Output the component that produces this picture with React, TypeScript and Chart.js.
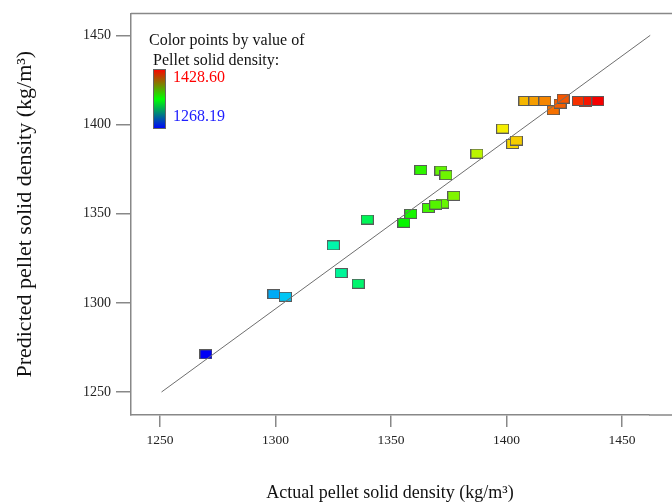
import React, { useEffect, useRef } from 'react';
import { Chart, registerables } from 'chart.js';

Chart.register(...registerables);

// Actual vs predicted pellet solid density (kg/m3)
const actualDensity = [
  1268.19, 1296.0, 1300.7, 1320.3, 1323.5, 1330.5, 1334.2, 1356.1, 1349.2, 1352.0,
  1359.2, 1365.1, 1362.2, 1369.6, 1364.3, 1366.4, 1379.1, 1389.6, 1393.7, 1395.2,
  1398.7, 1402.8, 1406.9, 1410.3, 1413.1, 1414.4, 1423.7, 1420.6, 1425.1, 1428.6,
];
const predictedDensity = [
  1271.1, 1304.9, 1303.4, 1332.2, 1316.7, 1310.7, 1346.7, 1374.5, 1344.9, 1349.9,
  1353.2, 1355.7, 1355.1, 1360.0, 1374.2, 1371.6, 1383.7, 1397.7, 1389.1, 1391.0,
  1413.2, 1413.2, 1413.2, 1408.0, 1411.7, 1414.5, 1412.5, 1413.2, 1413.2, 1413.2,
];
const fitLine = [1250, 1450];
const xTickValues = [1250, 1300, 1350, 1400, 1450];
const yTickValues = [1250, 1300, 1350, 1400, 1450];
const colorMin = 1268.19;
const colorMax = 1428.6;
const colorMinLabel = '1268.19';
const colorMaxLabel = '1428.60';
const legendTitle = ['Color points by value of', 'Pellet solid density:'];
const xTitle = 'Actual pellet solid density (kg/m³)';
const yTitle = 'Predicted pellet solid density (kg/m³)';

const FONT = '"Liberation Serif", "Times New Roman", serif';

function colorFor(v: number): string {
  const t = Math.max(0, Math.min(1, (v - colorMin) / (colorMax - colorMin)));
  const hue = 240 * (1 - t);
  return `hsl(${hue.toFixed(1)}, 100%, 48%)`;
}

function makeMarker(color: string): HTMLCanvasElement {
  const c = document.createElement('canvas');
  c.width = 13;
  c.height = 10;
  const g = c.getContext('2d')!;
  g.fillStyle = color;
  g.fillRect(0.5, 0.5, 12, 9);
  g.strokeStyle = '#5a5a5a';
  g.lineWidth = 1;
  g.strokeRect(0.5, 0.5, 12, 9);
  return c;
}

const framePlugin = {
  id: 'frameAndLegend',
  afterDraw(chart: any) {
    const { ctx, chartArea, width } = chart;
    ctx.save();
    ctx.strokeStyle = '#888';
    ctx.lineWidth = 1.5;
    ctx.beginPath();
    ctx.moveTo(chartArea.left, chartArea.top);
    ctx.lineTo(width, chartArea.top);
    ctx.moveTo(chartArea.right, chartArea.bottom);
    ctx.lineTo(width, chartArea.bottom);
    ctx.stroke();

    // colour legend
    ctx.font = `16px ${FONT}`;
    ctx.fillStyle = '#111';
    ctx.textBaseline = 'middle';
    ctx.textAlign = 'left';
    ctx.fillText(legendTitle[0], 149, 41);
    ctx.fillText(legendTitle[1], 153, 61);

    const bx = 153, by = 69, bw = 13, bh = 60;
    const grad = ctx.createLinearGradient(0, by, 0, by + bh);
    grad.addColorStop(0, '#ff0000');
    grad.addColorStop(0.5, '#00ff00');
    grad.addColorStop(1, '#0000ff');
    ctx.fillStyle = grad;
    ctx.fillRect(bx, by, bw, bh);
    ctx.strokeStyle = '#666';
    ctx.lineWidth = 1;
    ctx.strokeRect(bx + 0.5, by + 0.5, bw - 1, bh - 1);

    ctx.fillStyle = '#ff0000';
    ctx.fillText(colorMaxLabel, 173, 78);
    ctx.fillStyle = '#2020ff';
    ctx.fillText(colorMinLabel, 173, 117);
    ctx.restore();
  },
};

export default function App() {
  const ref = useRef<HTMLCanvasElement | null>(null);

  useEffect(() => {
    const canvas = ref.current;
    if (!canvas) return;
    const markers = actualDensity.map((v) => makeMarker(colorFor(v)));

    const chart = new Chart(canvas, {
      type: 'scatter',
      data: {
        datasets: [
          {
            type: 'line',
            label: 'Actual = Predicted',
            data: fitLine.map((v) => ({ x: v, y: v })),
            xAxisID: 'xd',
            yAxisID: 'y',
            borderColor: '#6e6e6e',
            borderWidth: 1,
            pointRadius: 0,
            fill: false,
            clip: false,
          } as any,
          {
            label: 'Pellet solid density',
            data: actualDensity.map((a, i) => ({ x: a, y: predictedDensity[i] })),
            xAxisID: 'xd',
            yAxisID: 'y',
            pointStyle: markers as any,
            pointRadius: 6,
            pointHoverRadius: 6,
          } as any,
        ],
      },
      options: {
        responsive: false,
        animation: false,
        devicePixelRatio: 1,
        layout: { padding: { top: 13, right: 23, left: 0, bottom: 0 } },
        plugins: { legend: { display: false }, tooltip: { enabled: false } },
        scales: {
          x: {
            type: 'linear',
            position: 'bottom',
            min: 1237.4,
            max: 1461.7,
            afterBuildTicks: (s: any) => {
              s.ticks = xTickValues.map((v) => ({ value: v }));
            },
            afterFit: (s: any) => {
              s.height = 89;
            },
            grid: {
              drawOnChartArea: false,
              drawTicks: true,
              tickLength: 12,
              color: '#888',
              lineWidth: 1.5,
            },
            border: { display: true, color: '#888', width: 1.5 },
            ticks: {
              font: { family: FONT, size: 13.5 },
              color: '#222',
              padding: 5,
              maxRotation: 0,
              callback: (v: any) => String(v),
            },
            title: {
              display: true,
              text: xTitle,
              font: { family: FONT, size: 18 },
              color: '#111',
              padding: { top: 0, bottom: 0 },
            },
          },
          xd: {
            type: 'linear',
            axis: 'x',
            display: false,
            min: 1237.5,
            max: 1449.5,
          },
          y: {
            type: 'linear',
            position: 'left',
            min: 1237.1,
            max: 1462.3,
            afterBuildTicks: (s: any) => {
              s.ticks = yTickValues.map((v) => ({ value: v }));
            },
            afterFit: (s: any) => {
              s.width = 131;
            },
            grid: {
              drawOnChartArea: false,
              drawTicks: true,
              tickLength: 15,
              color: '#888',
              lineWidth: 1.5,
            },
            border: { display: true, color: '#888', width: 1.5 },
            ticks: {
              font: { family: FONT, size: 14 },
              color: '#222',
              padding: 5,
              callback: (v: any) => String(v),
            },
            title: {
              display: true,
              text: yTitle,
              font: { family: FONT, size: 22 },
              color: '#111',
              padding: { top: 12, bottom: 0 },
            },
          },
        } as any,
      },
      plugins: [framePlugin],
    });

    return () => chart.destroy();
  }, []);

  return (
    <div style={{ position: 'absolute', left: 0, top: 0, width: 672, height: 504, background: '#fff' }}>
      <canvas ref={ref} width={672} height={504} style={{ display: 'block' }} />
    </div>
  );
}
